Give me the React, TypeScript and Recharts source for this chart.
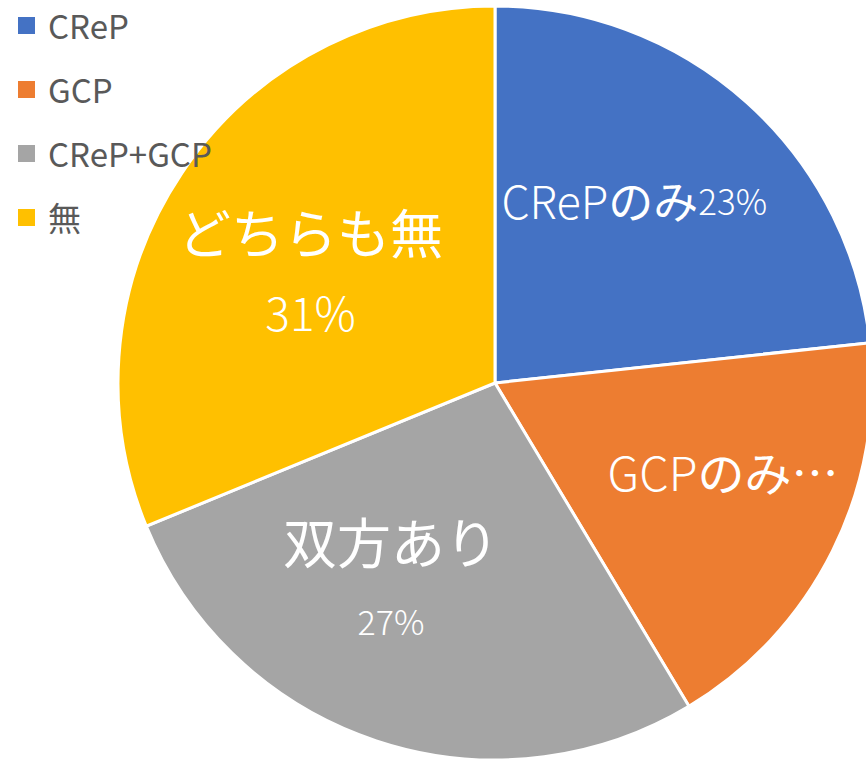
import React from 'react';
import { PieChart, Pie, Cell } from 'recharts';

// Slice data (share of respondents, %)
const categories = ['CReP', 'GCP', 'CReP+GCP', '無'];
const values = [23.3, 18.1, 27.4, 31.2];
const sliceLabels = ['CRePのみ', 'GCPのみ…', '双方あり', 'どちらも無'];
const pctLabels = ['23%', '', '27%', '31%'];
const COLORS = ['#4472C4', '#ED7D31', '#A5A5A5', '#FFC000'];

const FONT = '"Noto Sans CJK JP", "Noto Sans", sans-serif';
const RAD = Math.PI / 180;

const data = categories.map((name, i) => ({ name, value: values[i] }));

// split "CRePのみ" style labels into latin + kana parts (kana drawn a bit heavier)
const splitLabel = (s: string) => {
  const m = s.match(/^([A-Za-z]+)(.*)$/);
  return m ? [m[1], m[2]] : ['', s];
};

/**
 * Data labels: first two inline, others stacked on two lines
 */
const renderLabel = (props: any) => {
  const { cx, cy, midAngle, outerRadius, index } = props;
  const r = outerRadius * 0.64;
  const x = cx + r * Math.cos(-midAngle * RAD);
  const y = cy + r * Math.sin(-midAngle * RAD);
  const common = { fill: '#fff', fontFamily: FONT, textAnchor: 'middle' as const };

  if (index === 0 || index === 1) {
    const [latin, kana] = splitLabel(sliceLabels[index]);
    const size = index === 0 ? 45 : 47;
    return (
      <text
        x={index === 0 ? x - 22 : x + 12}
        y={index === 0 ? y - 5 : y - 21}
        dominantBaseline="central"
        {...common}
      >
        <tspan fontSize={size} fontWeight={300}>{latin}</tspan>
        <tspan fontSize={size} fontWeight={400}>{kana}</tspan>
        {pctLabels[index] && <tspan fontSize={35} fontWeight={300}>{pctLabels[index]}</tspan>}
      </text>
    );
  }
  const big = index === 3 ? 46 : 34;
  const dx = index === 3 ? 16 : -28;
  const dy = index === 3 ? 20 : -33;
  return (
    <g>
      <text x={x + dx} y={y - 38 + dy} dominantBaseline="central" fontSize={index === 3 ? 53 : 54} fontWeight={400} {...common}>
        {sliceLabels[index]}
      </text>
      <text x={x + dx} y={y + 42 + dy} dominantBaseline="central" fontSize={big} fontWeight={300} {...common}>
        {pctLabels[index]}
      </text>
    </g>
  );
};

const ChartLegend = () => (
  <div style={{ position: 'absolute', left: 0, top: -7, fontFamily: FONT }}>
    {categories.map((name, i) => (
      <div key={name} style={{ display: 'flex', alignItems: 'center', height: 64 }}>
        <span style={{ width: 17, height: 17, background: COLORS[i], marginLeft: 18, marginRight: 13 }} />
        <span style={{ fontSize: 33, color: '#595959' }}>{name}</span>
      </div>
    ))}
  </div>
);

export default function App() {
  return (
    <div style={{ position: 'absolute', left: 0, top: 0, width: 866, height: 761, background: '#fff', overflow: 'hidden' }}>
      <PieChart width={866} height={761} margin={{ top: 0, right: 0, bottom: 0, left: 0 }}>
        <Pie
          data={data}
          dataKey="value"
          nameKey="name"
          cx={495}
          cy={383}
          outerRadius={377}
          startAngle={90}
          endAngle={-270}
          stroke="#fff"
          strokeWidth={3}
          label={renderLabel}
          labelLine={false}
          isAnimationActive={false}
        >
          {data.map((d, i) => (
            <Cell key={d.name} fill={COLORS[i]} />
          ))}
        </Pie>
      </PieChart>
      <ChartLegend />
    </div>
  );
}
